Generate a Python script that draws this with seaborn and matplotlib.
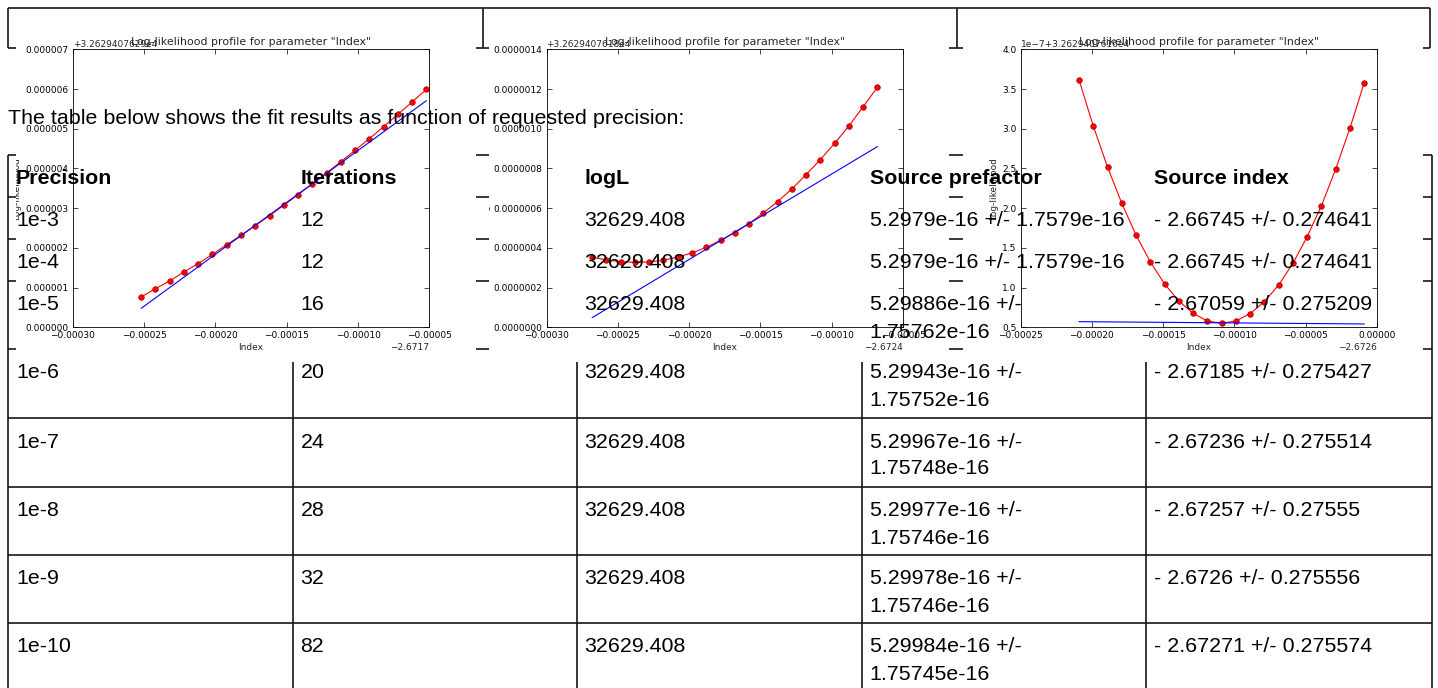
import matplotlib
matplotlib.use("Agg")
import matplotlib.pyplot as plt
import seaborn as sns
from matplotlib.ticker import FuncFormatter, MultipleLocator
from matplotlib.transforms import Bbox, TransformedBbox
from matplotlib.patches import Rectangle

# ---------------- data ----------------
intro = "The table below shows the fit results as function of requested precision:"
headers = ["Precision", "Iterations", "logL", "Source prefactor", "Source index"]
precision = ["1e-3", "1e-4", "1e-5", "1e-6", "1e-7", "1e-8", "1e-9", "1e-10"]
iterations = [12, 12, 16, 20, 24, 28, 32, 82]
logL = [32629.408, 32629.408, 32629.408, 32629.408, 32629.408, 32629.408, 32629.408, 32629.408]
prefactor = [5.2979e-16, 5.2979e-16, 5.29886e-16, 5.29943e-16, 5.29967e-16, 5.29977e-16, 5.29978e-16, 5.29984e-16]
prefactor_err = [1.7579e-16, 1.7579e-16, 1.75762e-16, 1.75752e-16, 1.75748e-16, 1.75746e-16, 1.75746e-16, 1.75745e-16]
index_val = [-2.66745, -2.66745, -2.67059, -2.67185, -2.67236, -2.67257, -2.6726, -2.67271]
index_err = [0.274641, 0.274641, 0.275209, 0.275427, 0.275514, 0.27555, 0.275556, 0.275574]

plot_title = 'Log-likelihood profile for parameter "Index"'
x_label = "Index"
y_label = "Log-likelihood"
x_offset_text = ["\u22122.6717", "\u22122.6724", "\u22122.6726"]
y_offset_text = ["+3.2629407629e4", "+3.2629407618e4", "1e\u22127+3.2629407616e4"]

# profile 1 (1e-3)
x1 = [-0.000252, -0.000242, -0.000232, -0.000222, -0.000212, -0.000202, -0.000192,
      -0.000182, -0.000172, -0.000162, -0.000152, -0.000142, -0.000132, -0.000122,
      -0.000112, -0.000102, -0.000092, -0.000082, -0.000072, -0.000062, -0.000052]
y1 = [0.763e-6, 0.974e-6, 1.167e-6, 1.394e-6, 1.603e-6, 1.838e-6, 2.082e-6,
      2.317e-6, 2.560e-6, 2.812e-6, 3.072e-6, 3.341e-6, 3.609e-6, 3.886e-6,
      4.172e-6, 4.457e-6, 4.751e-6, 5.053e-6, 5.364e-6, 5.675e-6, 5.993e-6]
t1x = [-0.000252, -0.000052]
t1y = [0.478e-6, 5.707e-6]

# profile 2 (1e-4)
x2 = [-0.000268, -0.000258, -0.000248, -0.000238, -0.000228, -0.000218, -0.000208,
      -0.000198, -0.000188, -0.000178, -0.000168, -0.000158, -0.000148, -0.000138,
      -0.000128, -0.000118, -0.000108, -0.000098, -0.000088, -0.000078, -0.000068]
y2 = [3.525e-7, 3.391e-7, 3.307e-7, 3.273e-7, 3.290e-7, 3.374e-7, 3.542e-7,
      3.743e-7, 4.029e-7, 4.381e-7, 4.763e-7, 5.221e-7, 5.758e-7, 6.329e-7,
      6.966e-7, 7.688e-7, 8.444e-7, 9.266e-7, 10.14e-7, 11.11e-7, 12.09e-7]
t2x = [-0.000268, -0.000068]
t2y = [0.487e-7, 9.10e-7]

# profile 3 (1e-5), y in units of 1e-7
x3 = [-0.000209, -0.000199, -0.000189, -0.000179, -0.000169, -0.000159, -0.000149,
      -0.000139, -0.000129, -0.000119, -0.000109, -0.000099, -0.000089, -0.000079,
      -0.000069, -0.000059, -0.000049, -0.000039, -0.000029, -0.000019, -0.000009]
y3 = [3.618, 3.035, 2.519, 2.061, 1.662, 1.323, 1.046,
      0.832, 0.676, 0.580, 0.550, 0.580, 0.672, 0.823,
      1.033, 1.306, 1.641, 2.032, 2.493, 3.010, 3.580]
t3x = [-0.000209, -0.000009]
t3y = [0.571, 0.542]

# ---------------- style ----------------
sns.set_style("ticks")
plt.rcParams["font.family"] = ["DejaVu Sans"]
plt.rcParams["axes.unicode_minus"] = True

W, H = 1438, 688
fig = plt.figure(figsize=(W / 100, H / 100), dpi=100)
fig.patch.set_facecolor("white")


def frac_rect(l, t, r, b):
    return [l / W, 1 - b / H, (r - l) / W, (b - t) / H]


# background layer: html table borders + white image canvases
ax_bg = fig.add_axes([0, 0, 1, 1], zorder=0)
ax_bg.set_xlim(0, W)
ax_bg.set_ylim(H, 0)
ax_bg.axis("off")
lc, lw = "#151515", 1.2
ax_bg.hlines([7.5, 48], 7.5, 1430, color=lc, lw=lw, zorder=1)
ax_bg.vlines([7.5, 482.7, 956.7, 1430], 7.5, 48, color=lc, lw=lw, zorder=1)
row_tops = [155, 197, 239, 281, 349, 418, 487, 555, 623, 691]
col_x = [8, 292.5, 576.5, 861.5, 1146, 1432]
ax_bg.hlines(row_tops, col_x[0], col_x[-1], color=lc, lw=lw, zorder=1)
ax_bg.vlines(col_x, row_tops[0], row_tops[-1], color=lc, lw=lw, zorder=1)

img_left = [15.6, 489.4, 963.4]
img_top, img_w, img_h = 14, 460, 348
for l in img_left:
    ax_bg.add_patch(Rectangle((l, img_top), img_w, img_h, facecolor="white",
                              edgecolor="none", zorder=10))

profiles = [
    (x1, y1, t1x, t1y, (-0.00030, -0.00005), (0, 7e-6), 1e-6, "{:.6f}"),
    (x2, y2, t2x, t2y, (-0.00030, -0.00005), (0, 1.4e-6), 2e-7, "{:.7f}"),
    (x3, y3, t3x, t3y, (-0.00025, 0.0), (0.5, 4.0), 0.5, "{:.1f}"),
]
ylabel_x = [17, 486, 993.3]


def xfmt(v, pos):
    s = "{:.5f}".format(v)
    if s.startswith("-0.00000"):
        s = "0.00000"
    return s.replace("-", "\u2212")


fs_tick = 6.5
for i, (xs, ys, tx, ty, xl, yl, ystep, yf) in enumerate(profiles):
    l = img_left[i]
    axl, axr, axt, axb = l + 57.1, l + 413.7, 49.3, 327.3
    ax = fig.add_axes(frac_rect(axl, axt, axr, axb), zorder=2)
    ax.set_facecolor("white")
    sns.lineplot(x=xs, y=ys, ax=ax, color="red", lw=0.8, marker="o", markersize=4,
                 markeredgecolor="#a00000", markeredgewidth=0.5, sort=False,
                 estimator=None)
    sns.lineplot(x=tx, y=ty, ax=ax, color="blue", lw=0.8, sort=False, estimator=None)
    ax.set_xlim(*xl)
    ax.set_ylim(*yl)
    ax.xaxis.set_major_locator(MultipleLocator(0.00005))
    ax.yaxis.set_major_locator(MultipleLocator(ystep))
    ax.xaxis.set_major_formatter(FuncFormatter(xfmt))
    ax.yaxis.set_major_formatter(FuncFormatter(lambda v, p, f=yf: f.format(v)))
    ax.tick_params(direction="in", top=True, right=True, length=3.5, width=0.5,
                   labelsize=fs_tick, pad=3, colors="black")
    for sp in ax.spines.values():
        sp.set_visible(True)
        sp.set_linewidth(0.6)
        sp.set_color("black")
    ax.set_xlabel(x_label, fontsize=fs_tick, labelpad=2)
    ax.set_ylabel("")
    hpx = axb - axt
    wpx = axr - axl
    ax.text(0.5, 1 + 7 / hpx, plot_title, transform=ax.transAxes, ha="center",
            va="center", fontsize=7.9)
    ax.text(0, 1 + 5 / hpx, y_offset_text[i], transform=ax.transAxes, ha="left",
            va="center", fontsize=fs_tick)
    ax.text(1, -19.7 / hpx, x_offset_text[i], transform=ax.transAxes, ha="right",
            va="center", fontsize=fs_tick)
    yl_txt = ax.text((ylabel_x[i] - axl) / wpx, 0.5, y_label, transform=ax.transAxes,
                     rotation=90, ha="center", va="center", fontsize=fs_tick)
    clip = TransformedBbox(Bbox.from_extents(l / W, 1 - (img_top + img_h) / H,
                                             (l + img_w) / W, 1 - img_top / H),
                           fig.transFigure)
    yl_txt.set_clip_box(clip)
    yl_txt.set_clip_on(True)

# overlay layer: html text
ax_txt = fig.add_axes([0, 0, 1, 1], zorder=3)
ax_txt.set_xlim(0, W)
ax_txt.set_ylim(H, 0)
ax_txt.axis("off")
tfont = dict(family="Liberation Sans", fontsize=15.36, color="black", va="baseline")
ax_txt.text(8, 124, intro, **tfont)
text_x = [c + 8 for c in col_x[:-1]]
for j, h in enumerate(headers):
    ax_txt.text(text_x[j], row_tops[0] + 29.5, h, fontweight="bold", **tfont)
for r in range(len(precision)):
    base = row_tops[r + 1] + 29.5
    pref = "{:g} +/- {:g}".format(prefactor[r], prefactor_err[r])
    if len(pref) > 25:
        pref = "{:g} +/-\n{:g}".format(prefactor[r], prefactor_err[r])
    idx = "- {:g} +/- {:g}".format(abs(index_val[r]), index_err[r])
    cells = [precision[r], str(iterations[r]), "{:.3f}".format(logL[r]), pref, idx]
    for j, c in enumerate(cells):
        for k, line in enumerate(c.split("\n")):
            ax_txt.text(text_x[j], base + 27 * k, line, **tfont)

fig.savefig("out.png", dpi=100, facecolor="white")
